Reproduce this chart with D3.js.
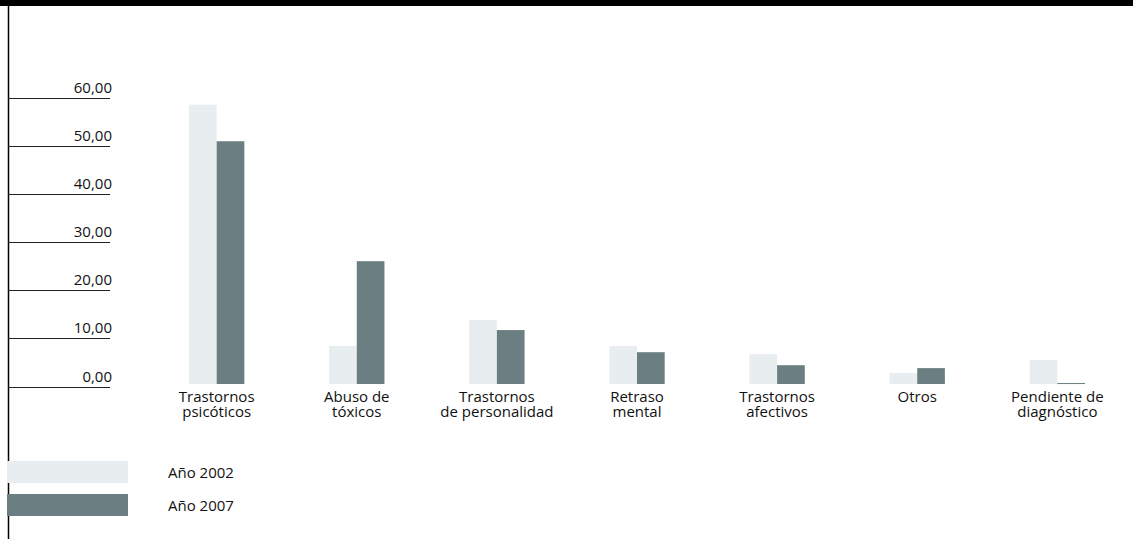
<!DOCTYPE html>
<html>
<head>
<meta charset="utf-8">
<script src="https://cdn.jsdelivr.net/npm/d3@7"></script>
<style>
  body { margin: 0; background: #fff; }
  text { font-family: "Open Sans", sans-serif; fill: #111; }
</style>
</head>
<body>
<div id="chart"></div>
<script>
// data
var categories = [
  ["Trastornos", "psicóticos"],
  ["Abuso de", "tóxicos"],
  ["Trastornos", "de personalidad"],
  ["Retraso", "mental"],
  ["Trastornos", "afectivos"],
  ["Otros"],
  ["Pendiente de", "diagnóstico"]
]
var values2002 = [58.0, 7.9, 13.3, 7.9, 6.2, 2.3, 5.0]
var values2007 = [50.4, 25.5, 11.2, 6.6, 3.9, 3.3, 0.2]
var yTicks = [0, 10, 20, 30, 40, 50, 60]
var seriesNames = ["Año 2002", "Año 2007"]
var colors = ["#e8edf0", "#6b7f83"]

var width = 1133, height = 539

var svg = d3.select("#chart")
  .append("svg")
  .attr("width", width)
  .attr("height", height)

// black band on top + left rule
svg.append("rect")
  .attr("x", 0).attr("y", 0)
  .attr("width", width).attr("height", 6)
  .attr("fill", "#000")
svg.append("line")
  .attr("x1", 8.5).attr("x2", 8.5)
  .attr("y1", 0).attr("y2", height)
  .attr("stroke", "#000")
  .attr("stroke-width", 1.5)

var y = d3.scaleLinear()
  .domain([0, 60])
  .range([386.5, 97.5])

var x0 = d3.scaleBand()
  .domain(d3.range(categories.length))
  .range([189, 1085])
  .paddingInner(0.605)
  .paddingOuter(0)

var x1 = d3.scaleBand()
  .domain([0, 1])
  .range([0, x0.bandwidth()])

var fmt = function(v) { return d3.format(".2f")(v).replace(".", ",") }

// y "axis": rules with labels sitting on them
var ticks = svg.append("g").selectAll("g")
  .data(yTicks)
  .enter().append("g")
  .attr("transform", function(d) { return "translate(0," + Math.round(y(d)) + ")" })
ticks.append("line")
  .attr("x1", 8).attr("x2", 110)
  .attr("y1", 0.5).attr("y2", 0.5)
  .attr("stroke", "#222")
  .attr("stroke-width", 1)
ticks.append("text")
  .attr("x", 112)
  .attr("y", -5)
  .attr("text-anchor", "end")
  .attr("font-size", 15)
  .text(fmt)

// bars
var base = y(0) - 2.5
var groups = svg.append("g").selectAll("g")
  .data(categories)
  .enter().append("g")
  .attr("transform", function(d, i) { return "translate(" + x0(i) + ",0)" })

groups.selectAll("rect")
  .data(function(d, i) { return [values2002[i], values2007[i]] })
  .enter().append("rect")
  .attr("x", function(d, j) { return x1(j) })
  .attr("width", x1.bandwidth())
  .attr("y", function(d) { return y(d) - 2.5 })
  .attr("height", function(d) { return Math.max(1, base - (y(d) - 2.5)) })
  .attr("fill", function(d, j) { return colors[j] })

// category labels
groups.append("text")
  .attr("x", x0.bandwidth() / 2)
  .attr("text-anchor", "middle")
  .attr("font-size", 15)
  .selectAll("tspan")
  .data(function(d) { return d })
  .enter().append("tspan")
  .attr("x", x0.bandwidth() / 2)
  .attr("y", function(d, k) { return 402 + k * 15 })
  .text(function(d) { return d })

// legend
var legend = svg.append("g").selectAll("g")
  .data(seriesNames)
  .enter().append("g")
  .attr("transform", function(d, i) { return "translate(0," + (461 + i * 33) + ")" })
legend.append("rect")
  .attr("x", 7).attr("y", 0)
  .attr("width", 121).attr("height", 22)
  .attr("fill", function(d, i) { return colors[i] })
legend.append("text")
  .attr("x", 168)
  .attr("y", 17)
  .attr("font-size", 15)
  .text(function(d) { return d })
</script>
</body>
</html>
